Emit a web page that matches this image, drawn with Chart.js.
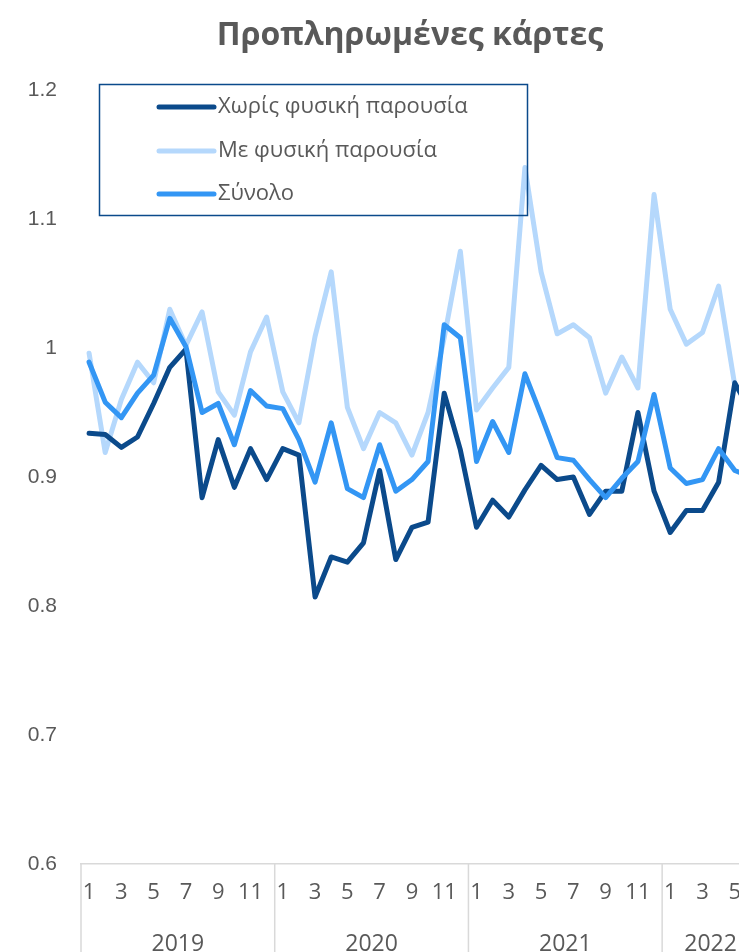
<!DOCTYPE html>
<html>
<head>
<meta charset="utf-8">
<script src="https://cdn.jsdelivr.net/npm/chart.js@4"></script>
<style>
  html, body { margin: 0; padding: 0; background: #ffffff; overflow: hidden; }
  #wrap { position: relative; width: 739px; height: 952px; overflow: hidden; background: #ffffff; }
  canvas { display: block; }
</style>
</head>
<body>
<div id="wrap"><canvas id="c" width="770" height="970"></canvas></div>
<script>
const chartTitle = 'Προπληρωμένες κάρτες';
const years = ['2019', '2020', '2021', '2022'];
const monthsPerYear = [12, 12, 12, 6];
const seriesNames = ['Χωρίς φυσική παρουσία', 'Με φυσική παρουσία', 'Σύνολο'];
const yTicks = [0.6, 0.7, 0.8, 0.9, 1.0, 1.1, 1.2];

const withoutPresence = [
  0.934, 0.933, 0.923, 0.931, 0.957, 0.985, 0.999, 0.884, 0.929, 0.892, 0.922, 0.898,
  0.922, 0.917, 0.807, 0.838, 0.834, 0.849, 0.905, 0.836, 0.861, 0.865, 0.965, 0.921,
  0.861, 0.882, 0.869, 0.890, 0.909, 0.898, 0.900, 0.871, 0.889, 0.889, 0.950, 0.889,
  0.857, 0.874, 0.874, 0.896, 0.973, 0.950
];
const withPresence = [
  0.996, 0.919, 0.960, 0.989, 0.973, 1.030, 1.002, 1.028, 0.966, 0.948, 0.997, 1.024,
  0.966, 0.942, 1.009, 1.059, 0.954, 0.922, 0.950, 0.942, 0.917, 0.950, 1.008, 1.075,
  0.952, 0.969, 0.985, 1.140, 1.059, 1.011, 1.018, 1.008, 0.965, 0.993, 0.969, 1.119,
  1.030, 1.003, 1.012, 1.048, 0.971, 0.955
];
const total = [
  0.989, 0.958, 0.946, 0.965, 0.979, 1.023, 1.001, 0.950, 0.957, 0.925, 0.967, 0.955,
  0.953, 0.929, 0.896, 0.942, 0.891, 0.884, 0.925, 0.889, 0.898, 0.912, 1.018, 1.008,
  0.912, 0.943, 0.919, 0.980, 0.948, 0.915, 0.913, 0.898, 0.884, 0.899, 0.912, 0.964,
  0.907, 0.895, 0.898, 0.922, 0.905, 0.900
];

const colors = ['#0b4a8b', '#b5d8fc', '#3396f4'];
const textColor = '#595959';
const axisColor = '#d9d9d9';

const monthLabels = [];
const yearOfIndex = [];
years.forEach((y, yi) => {
  for (let m = 1; m <= monthsPerYear[yi]; m++) { monthLabels.push(m); yearOfIndex.push(y); }
});
const categories = monthLabels.map((m, i) => yearOfIndex[i] + '-' + m);

const CANVAS_H = 970;
const PLOT_BOTTOM = 864;

const decorPlugin = {
  id: 'decor',
  afterDraw(chart) {
    const ctx = chart.ctx;
    const xs = chart.scales.x;
    const area = chart.chartArea;
    const band = xs.getPixelForValue(1) - xs.getPixelForValue(0);
    ctx.save();
    ctx.strokeStyle = axisColor;
    ctx.lineWidth = 1.5;
    let start = 0;
    const bounds = [];
    years.forEach((y, yi) => {
      const left = xs.getPixelForValue(start) - band / 2;
      const right = xs.getPixelForValue(start + monthsPerYear[yi] - 1) + band / 2;
      bounds.push(left);
      if (yi === years.length - 1) bounds.push(right);
      ctx.fillStyle = textColor;
      ctx.font = '23px "Open Sans"';
      ctx.textAlign = 'center';
      ctx.textBaseline = 'middle';
      ctx.fillText(y, (left + right) / 2, 944);
      start += monthsPerYear[yi];
    });
    bounds.forEach(b => {
      ctx.beginPath();
      ctx.moveTo(b, area.bottom);
      ctx.lineTo(b, CANVAS_H);
      ctx.stroke();
    });
    // title
    ctx.fillStyle = textColor;
    ctx.font = 'bold 32px "Open Sans"';
    ctx.textAlign = 'center';
    ctx.textBaseline = 'alphabetic';
    ctx.fillText(chartTitle, 410, 45);
    // legend
    ctx.strokeStyle = '#0b4a8b';
    ctx.lineWidth = 1.5;
    ctx.strokeRect(99.5, 84.5, 428, 131);
    const rows = [107, 151, 194];
    [0, 1, 2].forEach((si, r) => {
      ctx.strokeStyle = colors[si];
      ctx.lineWidth = 5;
      ctx.lineCap = 'round';
      ctx.beginPath();
      ctx.moveTo(159, rows[r]);
      ctx.lineTo(214, rows[r]);
      ctx.stroke();
      ctx.fillStyle = textColor;
      ctx.font = '22px "Open Sans"';
      ctx.textAlign = 'left';
      ctx.textBaseline = 'middle';
      ctx.fillText(seriesNames[si], 218, rows[r]);
    });
    ctx.restore();
  }
};

const mk = (label, data, color, order) => ({
  label, data, borderColor: color, backgroundColor: color,
  borderWidth: 5, pointRadius: 0, pointHoverRadius: 0, tension: 0,
  borderJoinStyle: 'round', borderCapStyle: 'round', fill: false, order
});

new Chart(document.getElementById('c'), {
  type: 'line',
  data: {
    labels: categories,
    datasets: [
      mk(seriesNames[0], withoutPresence, colors[0], 1),
      mk(seriesNames[1], withPresence, colors[1], 2),
      mk(seriesNames[2], total, colors[2], 0)
    ]
  },
  options: {
    responsive: false,
    animation: false,
    events: [],
    layout: { padding: { top: 90, right: 11, left: 0, bottom: 0 } },
    plugins: { legend: { display: false }, title: { display: false }, tooltip: { enabled: false } },
    scales: {
      x: {
        type: 'category',
        offset: true,
        grid: { display: false, drawTicks: false },
        border: { display: true, color: axisColor, width: 1.5 },
        ticks: {
          autoSkip: false, maxRotation: 0, minRotation: 0, padding: 16,
          color: textColor, font: { family: 'Open Sans', size: 22 },
          callback: (v, i) => (monthLabels[i] % 2 === 1 ? String(monthLabels[i]) : '')
        },
        afterFit: s => { s.height = CANVAS_H - PLOT_BOTTOM; }
      },
      y: {
        min: yTicks[0], max: yTicks[yTicks.length - 1],
        grid: { display: false, drawTicks: false },
        border: { display: false },
        afterBuildTicks: s => { s.ticks = yTicks.map(v => ({ value: v })); },
        ticks: {
          padding: 24, color: textColor,
          font: { family: 'Liberation Sans', size: 21 },
          callback: v => String(parseFloat(Number(v).toFixed(1)))
        },
        afterFit: s => { s.width = 81; }
      }
    }
  },
  plugins: [decorPlugin]
});
</script>
</body>
</html>
